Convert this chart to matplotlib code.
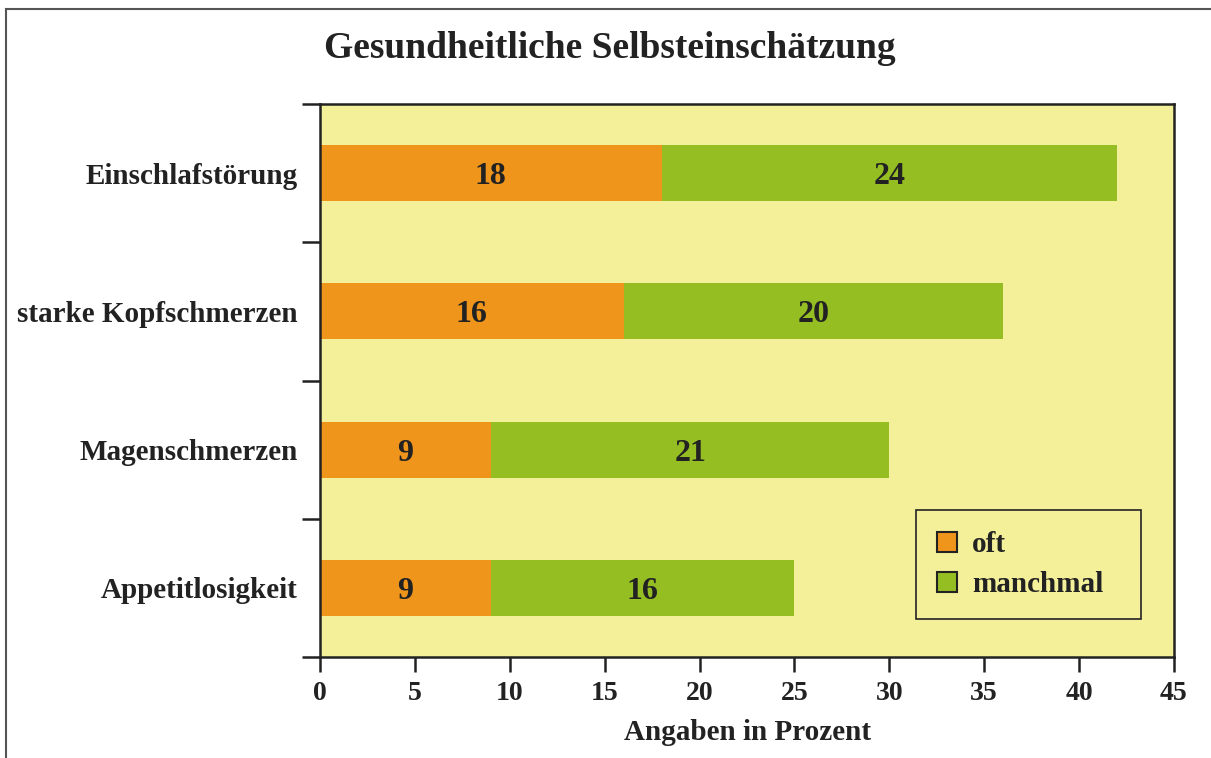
import matplotlib
matplotlib.use("Agg")
import matplotlib.pyplot as plt
from matplotlib.lines import Line2D
from matplotlib.patches import Patch

categories = ["Einschlafstörung", "starke Kopfschmerzen", "Magenschmerzen", "Appetitlosigkeit"]
oft = [18, 16, 9, 9]
manchmal = [24, 20, 21, 16]
xticks = [0, 5, 10, 15, 20, 25, 30, 35, 40, 45]
title = "Gesundheitliche Selbsteinschätzung"
xlabel = "Angaben in Prozent"
series_names = ["oft", "manchmal"]

c_oft = "#F0951B"
c_man = "#95BE23"
c_bg = "#F4F09A"
txt = "#222222"

plt.rcParams['font.family'] = ['Liberation Serif', 'DejaVu Serif']
plt.rcParams['font.weight'] = 'bold'

fig = plt.figure(figsize=(12.11, 7.58), dpi=100)
ax = fig.add_axes([320/1211, 1-657/758, (1174-320)/1211, (657-104)/758])
ax.set_facecolor(c_bg)

n = len(categories)
ypos = [n - 1 - i for i in range(n)]
h = 0.405
ax.barh(ypos, oft, height=h, color=c_oft, edgecolor='none')
ax.barh(ypos, manchmal, left=oft, height=h, color=c_man, edgecolor='none')

for y, o, m in zip(ypos, oft, manchmal):
    for xc, val in ((o/2, o), (o + m/2, m)):
        ax.annotate(str(val), (xc, y), xytext=(0, -2.5), textcoords='offset points',
                    ha='center', va='center', fontsize=23, fontweight='bold', color=txt)

ax.set_xlim(0, 45)
ax.set_ylim(-0.5, n - 0.5)
ax.set_xticks(xticks)
ax.set_xticklabels([str(t) for t in xticks], fontsize=20, fontweight='bold', color=txt)
ax.set_yticks([i - 0.5 for i in range(n + 1)])
ax.set_yticklabels([])
ax.set_yticks(ypos, minor=True)
ax.set_yticklabels(categories, minor=True, fontsize=21, fontweight='bold', color=txt)
for lab in ax.get_yticklabels(minor=True):
    lab.set_y(lab.get_position()[1])
ax.tick_params(axis='y', which='major', length=13, width=1.8, color='#222222', direction='out')
ax.tick_params(axis='y', which='minor', length=0, pad=16)
ax.tick_params(axis='x', which='major', length=11, width=1.8, color='#222222', direction='out', pad=6)
for s in ax.spines.values():
    s.set_linewidth(1.8)
    s.set_color('#222222')

ax.set_xlabel(xlabel, fontsize=21, fontweight='bold', color=txt, labelpad=10)
fig.text(610/1211, 1-49/758, title, ha='center', va='center', fontsize=27, fontweight='bold', color=txt)

handles = [Patch(facecolor=c_oft, edgecolor='#222222', linewidth=1.5),
           Patch(facecolor=c_man, edgecolor='#222222', linewidth=1.5)]
x0 = (916-320)/854
y1 = 1-(510-104)/553
w = (1141-916)/854
hh = (614-510)/553
leg = ax.legend(handles, series_names, loc='upper left', bbox_to_anchor=(x0, y1 - hh, w, hh),
                mode='expand', frameon=True, fancybox=False, edgecolor='#222222', facecolor=c_bg, framealpha=1,
                prop={'size': 21, 'weight': 'bold'}, handlelength=0.7, handleheight=0.7,
                borderpad=0.72, labelspacing=0.45, handletextpad=0.5, borderaxespad=0)
leg.get_frame().set_linewidth(1.2)
for t in leg.get_texts():
    t.set_color(txt)

# outer frame lines
fig.add_artist(Line2D([6/1211, 6/1211], [0, 1-9/758], transform=fig.transFigure, color='#555555', lw=1.5))
fig.add_artist(Line2D([6/1211, 1], [1-9/758, 1-9/758], transform=fig.transFigure, color='#555555', lw=1.5))

fig.savefig("out.png", dpi=100)
